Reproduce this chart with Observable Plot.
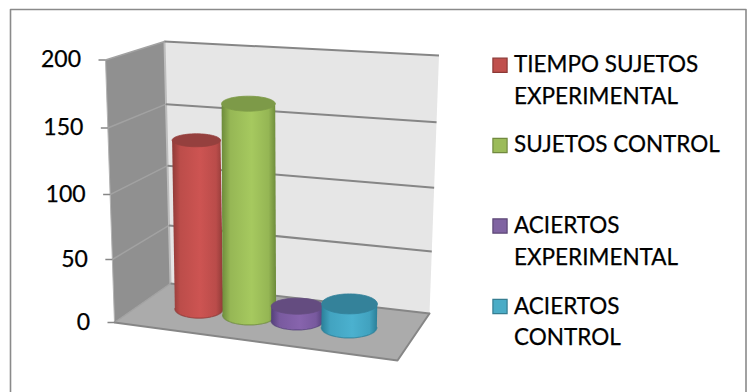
<!DOCTYPE html>
<html>
<head>
<meta charset="utf-8">
<style>
  html, body { margin: 0; padding: 0; background: #fff; }
  svg { display: block; }
</style>
<script src="https://cdn.jsdelivr.net/npm/d3@7"></script>
<script src="https://cdn.jsdelivr.net/npm/@observablehq/plot@0.6"></script>
</head>
<body>
<script>
// Series of the clustered cylinder chart
const seriesNames = ["TIEMPO SUJETOS EXPERIMENTAL", "SUJETOS CONTROL", "ACIERTOS EXPERIMENTAL", "ACIERTOS CONTROL"];
const seriesValues = [135, 167, 12, 19];
const valueTicks = [0, 50, 100, 150, 200];

// Legend text, one list of lines per series
const legendLines = [["TIEMPO SUJETOS", "EXPERIMENTAL"], ["SUJETOS CONTROL"], ["ACIERTOS", "EXPERIMENTAL"], ["ACIERTOS", "CONTROL"]];

// Colours: [edge, centre, top face, swatch, swatch border]
const palette = [
  ["#8f3a37", "#cd5452", "#95403e", "#c0504d", "#8c3836"],
  ["#6c8a3a", "#a6c95f", "#7d9a48", "#9bbb59", "#71893f"],
  ["#54407a", "#8764ad", "#644c80", "#8064a2", "#5c4776"],
  ["#2a7f98", "#4bb1cf", "#34829a", "#4bacc6", "#357d91"]
];

// Layout of the drawing
const W = 748, H = 392;
const tickPixels = [322, 259, 194, 127.5, 59.5];      // screen height of each value tick on the front edge
const tickShare = [0, 0.24, 0.487, 0.741, 1];         // foreshortening of the value axis
const box = {                                         // corners of the chart box [x, y]
  frontBottomLeft: [114, 322], frontBottomRight: [397, 360],
  backBottomLeft: [170, 283], backBottomRight: [429, 313],
  frontTopLeft: [105, 59.5], frontTopRight: [405, 98],
  backTopLeft: [164, 41], backTopRight: [438.5, 55]
};
const slots = [0.203, 0.389, 0.566, 0.758];            // centre of each cylinder across the floor
const slotDepth = 0.53;
const radiusX = [24.2, 26.8, 26, 27.8];
const footRadiusY = [9.5, 10, 9, 10.5];                // the view is steeper at the floor than higher up
const headRadiusY = [6.5, 7.5, 8, 10];

const share = d3.scaleLinear(valueTicks, tickShare);
const pixelToValue = d3.scaleLinear(tickPixels, valueTicks);
const valueToPixel = d3.scaleLinear(valueTicks, tickPixels);
const lerp = (a, b, t) => [a[0] + (b[0] - a[0]) * t, a[1] + (b[1] - a[1]) * t];

// Position of a point in the box: u across, d into the depth, v a value
function project(u, d, v) {
  const bottom = lerp(lerp(box.frontBottomLeft, box.frontBottomRight, u), lerp(box.backBottomLeft, box.backBottomRight, u), d);
  const top = lerp(lerp(box.frontTopLeft, box.frontTopRight, u), lerp(box.backTopLeft, box.backTopRight, u), d);
  const [x, y] = lerp(bottom, top, share(v));
  return {x, y: pixelToValue(y)};
}
const screen = (x, y) => ({x, y: pixelToValue(y)});
const face = (...pts) => [...pts, pts[0]];
const toScaled = (points) => points.map(([x, y]) => screen(x, y));

// Wall and floor outlines
const leftWall = face(project(0, 0, 0), project(0, 1, 0), project(0, 1, 200), project(0, 0, 200));
const backWall = face(project(0, 1, 0), project(1, 1, 0), project(1, 1, 200), project(0, 1, 200));
const floor = face(project(0, 0, 0), project(1, 0, 0), project(1, 1, 0), project(0, 1, 0));

// Points along an elliptical arc, in screen pixels
function arc(cx, cy, rx, ry, from, to, n = 40) {
  return d3.range(n + 1).map((i) => {
    const a = from + (to - from) * i / n;
    return [cx + rx * Math.cos(a), cy + ry * Math.sin(a)];
  });
}

const cylinderMarks = seriesValues.flatMap((value, i) => {
  const foot = project(slots[i], slotDepth, 0);
  const head = project(slots[i], slotDepth, value);
  const footPx = valueToPixel(foot.y), headPx = valueToPixel(head.y);
  const rx = radiusX[i];
  const edge = arc(foot.x, footPx, rx, footRadiusY[i], Math.PI, 0);
  const body = [[head.x - rx, headPx], ...edge, [head.x + rx, headPx]];
  return [
    Plot.line(toScaled([...body, body[0]]), {x: "x", y: "y", fill: `url(#body${i})`, stroke: "none"}),
    Plot.line(toScaled(edge), {x: "x", y: "y", stroke: palette[i][0], strokeWidth: 1.2, strokeOpacity: 0.7}),
    Plot.line(toScaled(arc(head.x, headPx, rx, headRadiusY[i], 0, 2 * Math.PI, 60)), {x: "x", y: "y", fill: palette[i][2], stroke: palette[i][2], strokeWidth: 0.8})
  ];
});

// Left to right shading of the cylinder bodies
const gradients = () => {
  const defs = d3.create("svg:defs");
  palette.forEach((c, i) => {
    const g = defs.append("linearGradient").attr("id", `body${i}`).attr("x1", 0).attr("x2", 1).attr("y1", 0).attr("y2", 0);
    [[0, c[0]], [0.16, d3.interpolateRgb(c[0], c[1])(0.72)], [0.55, c[1]], [0.86, d3.interpolateRgb(c[0], c[1])(0.7)], [1, c[0]]]
      .forEach(([o, col]) => g.append("stop").attr("offset", o).attr("stop-color", col));
  });
  return defs.node();
};

// Grid lines on the walls, one record per value tick
const wallGrid = valueTicks.map((v) => ({a: project(0, 0, v), b: project(0, 1, v), c: project(1, 1, v)}));

// Legend rows: swatch centres and text lines in screen pixels
const legendX = 513.5, swatchX = 499.5;
const legendRowsPx = [[64, 96], [144], [225, 257], [306, 337]];
const swatchRowsPx = [64.8, 145, 225.5, 306];
const legendText = legendLines.flatMap((lines, i) => lines.map((line, j) => ({line, ...screen(legendX, legendRowsPx[i][j])})));
const swatches = swatchRowsPx.map((py, i) => ({...screen(swatchX, py), i}));

const chart = Plot.plot({
  width: W,
  height: H,
  margin: 0,
  style: {background: "#fff", fontFamily: "Lato, sans-serif", overflow: "visible"},
  x: {domain: [0, W], range: [0, W], axis: null},
  y: {domain: valueTicks, range: tickPixels, axis: null, type: "linear"},
  marks: [
    gradients,
    // Outer frame, running off the foot of the page
    Plot.line(toScaled([[10, H], [10, 9], [745.5, 9], [745.5, H]]), {x: "x", y: "y", stroke: "#8a8a8a", strokeWidth: 1.6}),
    // Walls and floor
    Plot.line(backWall, {x: "x", y: "y", fill: "#e6e6e6", stroke: "none"}),
    Plot.line(leftWall, {x: "x", y: "y", fill: "#909090", stroke: "none"}),
    Plot.line(floor, {x: "x", y: "y", fill: "#ababab", stroke: "none"}),
    Plot.line([project(0, 1, 0), project(0, 1, 200)], {x: "x", y: "y", stroke: "#bdbdbd", strokeWidth: 2}),
    Plot.line([project(0, 0, 0), project(0, 0, 200)], {x: "x", y: "y", stroke: "#b4b4b4", strokeWidth: 1}),
    Plot.link(wallGrid, {x1: (d) => d.a.x, y1: (d) => d.a.y, x2: (d) => d.b.x, y2: (d) => d.b.y, stroke: "#a2a2a2", strokeWidth: 1.5}),
    Plot.link(wallGrid, {x1: (d) => d.b.x, y1: (d) => d.b.y, x2: (d) => d.c.x, y2: (d) => d.c.y, stroke: "#868686", strokeWidth: 2}),
    Plot.line([project(0, 0, 0), project(1, 0, 0), project(1, 1, 0)], {x: "x", y: "y", stroke: "#868686", strokeWidth: 2}),
    // Value axis following the front edge of the left wall
    Plot.link(valueTicks, {x1: (v) => project(0, 0, v).x - 7, x2: (v) => project(0, 0, v).x, y1: (v) => v, y2: (v) => v, stroke: "#868686", strokeWidth: 1.5}),
    Plot.text(valueTicks, {x: (v) => project(0, 0, v).x - 24.5, y: (v) => v, text: (v) => String(v), textAnchor: "end", fontSize: 23, fill: "#000", stroke: "#000", strokeWidth: 0.25}),
    // Cylinders, painted left to right
    ...cylinderMarks,
    // Legend
    ...swatches.map((s) => Plot.dot([s], {x: "x", y: "y", symbol: "square", r: 8, fill: palette[s.i][3], stroke: palette[s.i][4], strokeWidth: 1.2})),
    Plot.text(legendText, {x: "x", y: "y", text: "line", textAnchor: "start", fontSize: 22.5, fill: "#000", stroke: "#000", strokeWidth: 0.25})
  ]
});
document.body.appendChild(chart);
</script>
</body>
</html>
